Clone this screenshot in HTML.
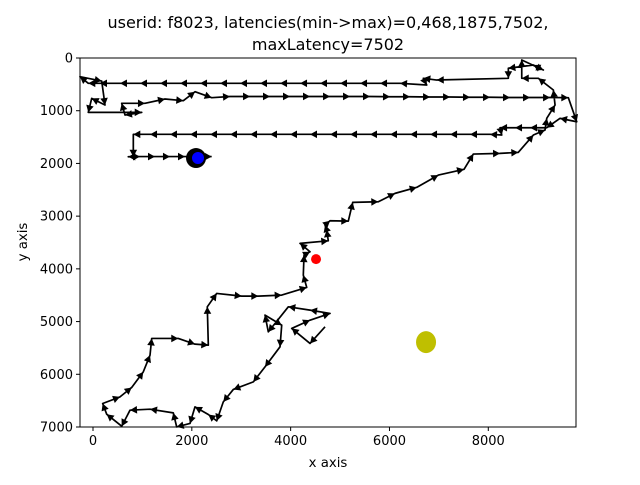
<!DOCTYPE html>
<html><head><meta charset="utf-8"><style>
body{margin:0;background:#fff;}
svg text{font-family:"DejaVu Sans","Liberation Sans",sans-serif;}
</style></head><body>
<svg id="chart" width="640" height="480" xmlns="http://www.w3.org/2000/svg">
<text x="328" y="28" font-size="16" text-anchor="middle">userid: f8023, latencies(min-&gt;max)=0,468,1875,7502,</text>
<text x="328" y="50" font-size="16" text-anchor="middle">maxLatency=7502</text>
<g id="plot"></g>
<g id="axes"></g>
<text x="328" y="467" font-size="13.3" text-anchor="middle">x axis</text>
<text x="27" y="242" font-size="13.3" text-anchor="middle" transform="rotate(-90 27 242)">y axis</text>
</svg>
<script>
const xTicks=[0,2000,4000,6000,8000];
const yTicks=[0,1000,2000,3000,4000,5000,6000,7000];
const pathX=[4696,4392,4022,4392,4797,4392,3953,3548,3481,
3819,3785,3481,3245,2840,2637,2504,2334,2064,1963,1694,1625,1154,749,581,277,196,546,783,1018,1154,1188,1726,2064,2334,2313,2504,3010,3346,3819,4325,4256,4271,4392,4190,4762,4730,4696,4797,5167,5256,5774,6112,6552,6989,7509,7697,8238,8608,8912,9148,9183,9351,9317,9013,8677,8677,9114,8912,8406,8406,6957,6685,6754,
6214,5809,5404,4999,4594,4190,3785,3380,2975,2570,2166,1761,1356,951,546,142,-95,
-263,176,243,-26,-95,986,648,581,1052,1457,1828,2064,2402,
2773,3178,3582,3987,4392,4797,5202,5606,6011,6416,6821,7226,7630,8035,8440,8845,9250,9620,
9790,9452,9183,8845,8541,8238,8272,
8035,7630,7226,6821,6416,6011,5606,5202,4797,4392,3987,3582,3178,2773,2368,1963,1558,1154,816,816,714,
951,1255,1558,1862,2166,2402];
const pathY=[5100,5415,5130,4973,4846,4783,4720,5195,4878,
5068,5479,5859,6144,6288,6523,6884,6763,6618,6933,6998,6732,6662,6681,6985,6757,6554,6429,6250,5954,5637,5320,5320,5428,5447,4720,4466,4517,4517,4498,4352,4119,3739,3676,3517,3468,3265,3170,3088,3094,2739,2727,2568,2454,2221,2112,1822,1809,1790,1461,1367,1145,892,607,385,385,38,228,133,195,385,418,385,512,
480,480,480,480,480,480,480,480,480,480,480,480,480,480,480,480,480,
355,437,892,765,1031,1031,1082,860,860,778,810,640,753,
730,730,730,730,730,730,730,730,735,735,740,740,745,745,750,750,750,753,
1209,1145,1323,1323,1323,1323,1461,
1448,1448,1448,1448,1448,1448,1448,1448,1448,1448,1448,1448,1448,1448,1448,1448,1448,1448,1448,1873,1873,
1870,1870,1870,1870,1870,1870];
const endMarker=[2085,1898];
const lastPoint=[2125,1898];
const minPoint=[4514,3815];
const otherPoint=[6740,5390];

const L=80,R=576,T=58,B=427;
const xMin=-263,xMax=9775,yMin=0,yMax=7000;
const sx=v=>L+(v-xMin)/(xMax-xMin)*(R-L);
const sy=v=>T+(v-yMin)/(yMax-yMin)*(B-T);
const NS='http://www.w3.org/2000/svg';
const plot=document.getElementById('plot');
const axes=document.getElementById('axes');
function mk(tag,attrs,parent){const e=document.createElementNS(NS,tag);for(const k in attrs)e.setAttribute(k,attrs[k]);parent.appendChild(e);return e;}

let pts=pathX.map((x,i)=>sx(x)+','+sy(pathY[i])).join(' ');
const line=mk('polyline',{points:pts,fill:'none',stroke:'#000','stroke-width':1.7,'stroke-linejoin':'round'},plot);


for(let i=1;i<pathX.length;i++){
  const x0=sx(pathX[i-1]),y0=sy(pathY[i-1]),x1=sx(pathX[i]),y1=sy(pathY[i]);
  const dx=x1-x0,dy=y1-y0,len=Math.hypot(dx,dy);if(len<2)continue;
  const ux=dx/len,uy=dy/len,hl=7,hw=3.8;
  const bx=x1-ux*hl,by=y1-uy*hl;
  const p=mk('polygon',{points:`${x1},${y1} ${bx-uy*hw},${by+ux*hw} ${bx+uy*hw},${by-ux*hw}`,fill:'#000'},plot);
  
  
}
const c1=mk('circle',{cx:sx(endMarker[0]),cy:sy(endMarker[1]),r:10,fill:'#000'},plot);


const c2=mk('circle',{cx:sx(lastPoint[0]),cy:sy(lastPoint[1]),r:6,fill:'#0000ff'},plot);


const c3=mk('circle',{cx:sx(minPoint[0]),cy:sy(minPoint[1]),r:5,fill:'#ff0000'},plot);


const c4=mk('ellipse',{cx:sx(otherPoint[0]),cy:sy(otherPoint[1]),rx:10,ry:11,fill:'#bfbf00'},plot);



const frame=mk('rect',{x:L,y:T,width:R-L,height:B-T,fill:'none',stroke:'#000','stroke-width':1},axes);


xTicks.forEach(v=>{
  const x=sx(v);
  const t=mk('line',{x1:x,y1:B,x2:x,y2:B+4,stroke:'#000'},axes);
  
  
  const l=mk('text',{x:x,y:B+18,'font-size':13,'text-anchor':'middle'},axes);l.textContent=v;
  
  
});
yTicks.forEach(v=>{
  const y=sy(v);
  const t=mk('line',{x1:L-4,y1:y,x2:L,y2:y,stroke:'#000'},axes);
  
  
  const l=mk('text',{x:L-7,y:y+4.5,'font-size':13,'text-anchor':'end'},axes);l.textContent=v;
  
  
});
</script>
</body></html>
